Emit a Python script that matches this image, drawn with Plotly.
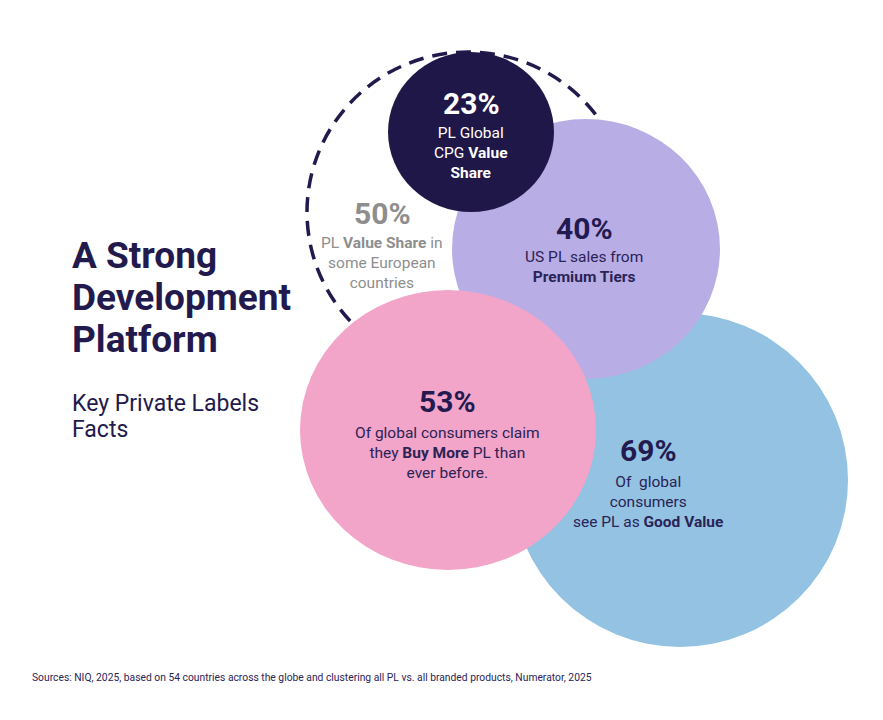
import plotly.graph_objects as go

# key facts, one per bubble
values = [50, 69, 40, 53, 23]
value_labels = ["50%", "69%", "40%", "53%", "23%"]
descriptions = [
    "PL <b>Value Share</b> in<br>some European<br>countries",
    "Of  global<br>consumers<br>see PL as <b>Good Value</b>",
    "US PL sales from<br><b>Premium Tiers</b>",
    "Of global consumers claim<br>they <b>Buy More</b> PL than<br>ever before.",
    "PL Global<br>CPG <b>Value</b><br><b>Share</b>",
]

title_lines = ["A Strong", "Development", "Platform"]
subtitle_lines = ["Key Private Labels", "Facts"]
source_text = ("Sources: NIQ, 2025, based on 54 countries across the globe and clustering "
               "all PL vs. all branded products, Numerator, 2025")

# layout of the bubbles (pixel space, drawn bottom to top)
centers = [(468, 212), (680, 480), (586, 249), (448, 430), (471, 132)]
radii = [(161, 160), (168, 167), (134, 130), (148, 140), (83, 80)]
fills = [None, "#93c2e2", "#b9ade6", "#f3a4c9", "#201749"]
num_colors = ["#8e8e8e", "#231a4f", "#231a4f", "#231a4f", "#ffffff"]
text_colors = ["#8e8e8e", "#2a2356", "#2a2356", "#2a2356", "#ffffff"]
label_pos = [(382, 213), (648, 450), (584, 228), (447, 401), (471, 103)]
text_offsets = [50, 52, 39, 52, 50]

NAVY = "#221a4c"
W, H = 883, 720
PAD = 8  # page body margin

fig = go.Figure()
fig.add_trace(go.Scatter(x=[0, W], y=[0, H], mode="markers",
                         marker=dict(opacity=0), hoverinfo="skip", showlegend=False))

for i in range(len(values)):
    cx, cy = centers[i]
    rx, ry = radii[i]
    if fills[i] is None:
        fig.add_shape(type="circle", xref="x", yref="y",
                      x0=cx - rx, x1=cx + rx, y0=cy - ry, y1=cy + ry,
                      line=dict(color=NAVY, width=3.5, dash="15px,9px"),
                      fillcolor="rgba(0,0,0,0)", layer="below")
    else:
        fig.add_shape(type="circle", xref="x", yref="y",
                      x0=cx - rx, x1=cx + rx, y0=cy - ry, y1=cy + ry,
                      line=dict(width=0), fillcolor=fills[i], layer="below")
    lx, ly = label_pos[i]
    fig.add_annotation(x=lx, y=ly, xref="x", yref="y",
                       text="<b>%s</b>" % value_labels[i], showarrow=False,
                       font=dict(family="Roboto", size=30, color=num_colors[i]))
    fig.add_annotation(x=lx, y=ly + text_offsets[i], xref="x", yref="y",
                       text=descriptions[i], showarrow=False, align="center",
                       font=dict(family="Roboto", size=15.5, color=text_colors[i]))

for j, line in enumerate(title_lines):
    fig.add_annotation(x=70, y=255 + 42 * j, xref="x", yref="y", text="<b>%s</b>" % line,
                       showarrow=False, xanchor="left",
                       font=dict(family="Roboto", size=37, color=NAVY))

for j, line in enumerate(subtitle_lines):
    fig.add_annotation(x=70, y=403 + 26 * j, xref="x", yref="y", text=line,
                       showarrow=False, xanchor="left",
                       font=dict(family="Roboto", size=23, color=NAVY))

fig.add_annotation(x=30, y=677, xref="x", yref="y", text=source_text,
                   showarrow=False, xanchor="left",
                   font=dict(family="Roboto", size=10.3, color="#2b2456"))

fig.update_layout(
    width=W - PAD, height=H - PAD,
    margin=dict(l=0, r=0, t=0, b=0),
    paper_bgcolor="white", plot_bgcolor="white",
    xaxis=dict(range=[PAD, W], visible=False, fixedrange=True),
    yaxis=dict(range=[H, PAD], visible=False, fixedrange=True),
    showlegend=False,
)

fig.write_html("out.html")
